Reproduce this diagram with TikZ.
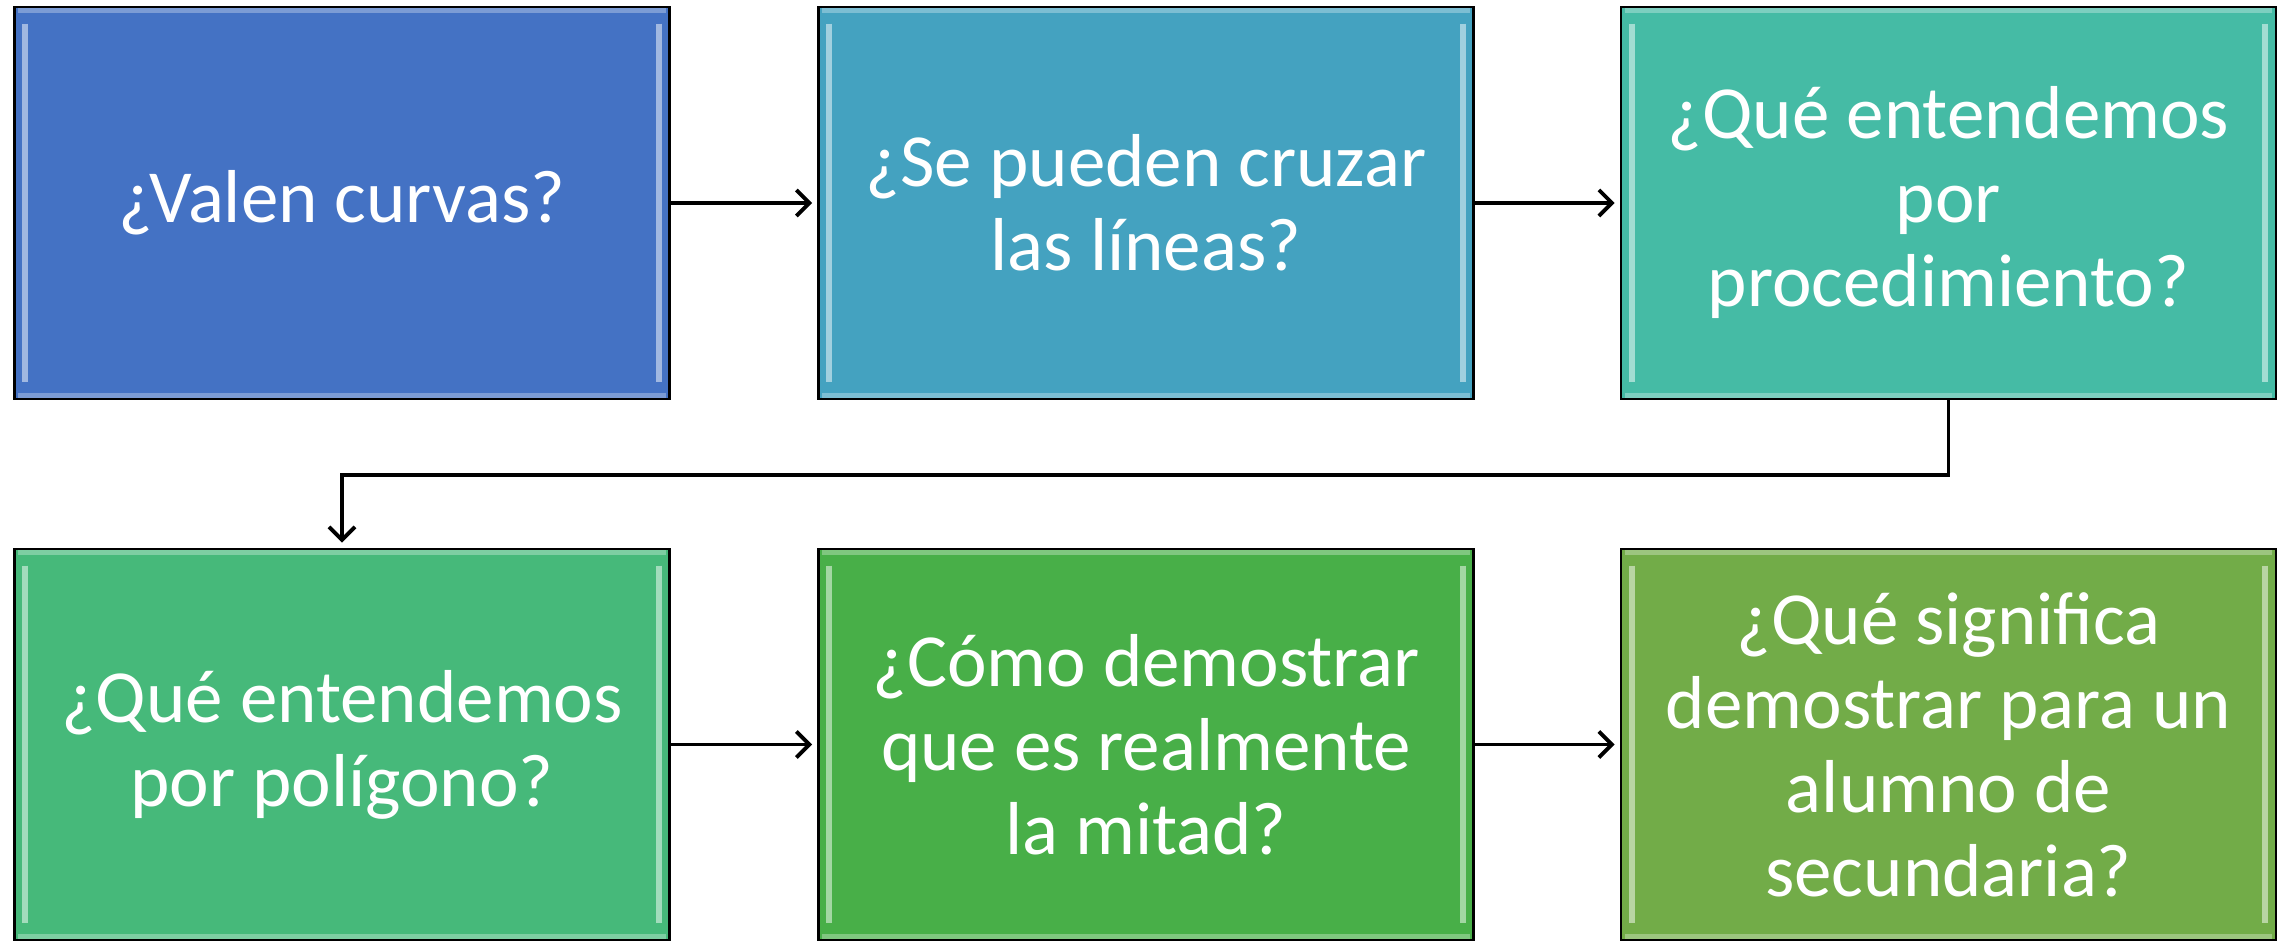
\documentclass[tikz,border=0pt]{standalone}
\usepackage{fontspec}
\setmainfont{Carlito}
\usetikzlibrary{arrows.meta}
\definecolor{cA}{RGB}{68,114,196}
\definecolor{cB}{RGB}{68,162,192}
\definecolor{cC}{RGB}{69,187,165}
\definecolor{cD}{RGB}{70,185,122}
\definecolor{cE}{RGB}{72,175,72}
\definecolor{cF}{RGB}{114,172,72}
\tikzset{
  qbox/.style={draw=black, line width=2.8pt, minimum width=655pt, minimum height=392pt,
    inner sep=0pt, text=white, font=\fontsize{75}{84}\selectfont, align=center},
  arr/.style={line width=3.8pt, -{Straight Barb[length=13pt,width=26pt,line width=3.8pt]}, shorten >=5pt},
  bevel/.style={line width=6pt, white, opacity=0.5}
}
\begin{document}
\begin{tikzpicture}[x=1pt,y=1pt]
\useasboundingbox (0,0) rectangle (2292,940);
\node[qbox, fill=cA] (b1) at (342,737) {¿Valen curvas?};
\node[qbox, fill=cB] (b2) at (1146,737) {¿Se pueden cruzar\\las líneas?};
\node[qbox, fill=cC] (b3) at (1948.5,737) {¿Qué entendemos\\por\\procedimiento?};
\node[qbox, fill=cD, minimum height=391pt] (b4) at (342,195.5) {¿Qué entendemos\\por polígono?};
\node[qbox, fill=cE, minimum height=391pt] (b5) at (1146,195.5) {¿Cómo demostrar\\que es realmente\\la mitad?};
\node[qbox, fill=cF, minimum height=391pt] (b6) at (1948.5,195.5) {¿Qué significa\\demostrar para un\\alumno de\\secundaria?};
\foreach \n in {b1,b2,b3,b4,b5,b6}{
  \draw[bevel] ([shift={(12pt,-18pt)}]\n.north west) -- ([shift={(12pt,18pt)}]\n.south west);
  \draw[bevel] ([shift={(-12pt,-18pt)}]\n.north east) -- ([shift={(-12pt,18pt)}]\n.south east);
  \draw[bevel, line width=5pt, opacity=0.3] ([shift={(5pt,-5pt)}]\n.north west) -- ([shift={(-5pt,-5pt)}]\n.north east);
  \draw[bevel, line width=5pt, opacity=0.3] ([shift={(5pt,5pt)}]\n.south west) -- ([shift={(-5pt,5pt)}]\n.south east);
}
\coordinate (mid) at (0,465);
\draw[arr] (b1.east) -- (b2.west);
\draw[arr] (b2.east) -- (b3.west);
\draw[arr] (b3.south) -- (b3.south |- mid) -- (b4.north |- mid) -- (b4.north);
\draw[arr] (b4.east) -- (b5.west);
\draw[arr] (b5.east) -- (b6.west);
\end{tikzpicture}
\end{document}
